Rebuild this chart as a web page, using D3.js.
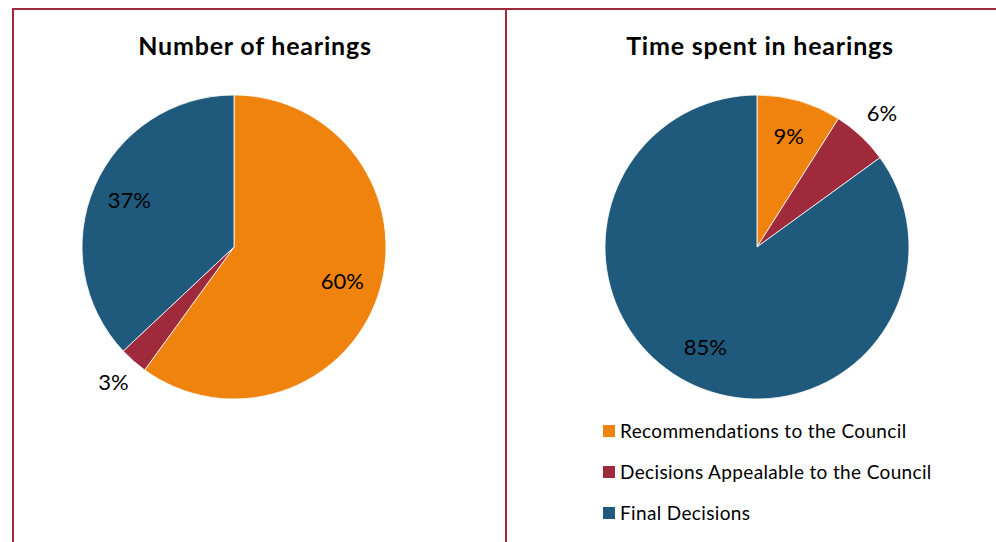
<!DOCTYPE html>
<html><head><meta charset="utf-8">
<script src="https://cdn.jsdelivr.net/npm/d3@7"></script>
<style>body{margin:0;background:#fff}svg{display:block}text{font-family:Lato,"Open Sans",sans-serif;fill:#000}</style>
</head><body>
<svg id="c" width="996" height="542"></svg>
<script>
const categories = ["Recommendations to the Council", "Decisions Appealable to the Council", "Final Decisions"];
const colors = ["#F0830D", "#9E2A3B", "#1F5A7D"];
const hearingsCount = [60, 3, 37];
const hearingsTime = [9, 6, 85];
const titles = ["Number of hearings", "Time spent in hearings"];

const svg = d3.select("#c");
const borderColor = "#9E2A3B";
// frame
svg.append("line").attr("x1",12).attr("x2",996).attr("y1",9).attr("y2",9).attr("stroke",borderColor).attr("stroke-width",2);
svg.append("line").attr("x1",13).attr("x2",13).attr("y1",8).attr("y2",542).attr("stroke",borderColor).attr("stroke-width",2);
svg.append("line").attr("x1",506).attr("x2",506).attr("y1",8).attr("y2",542).attr("stroke",borderColor).attr("stroke-width",2);

const color = d3.scaleOrdinal().domain(categories).range(colors);
const pie = d3.pie().sort(null).value(d => d.v);
const R = 152;
const arc = d3.arc().innerRadius(0).outerRadius(R);
const inArc = d3.arc().innerRadius(R*0.75).outerRadius(R*0.75);
const outArc = d3.arc().innerRadius(R*1.2).outerRadius(R*1.2);

function drawPie(values, cx, cy, title, tx) {
  const data = categories.map((c,i)=>({c, v: values[i]}));
  const g = svg.append("g").attr("transform",`translate(${cx},${cy})`);
  g.selectAll("path").data(pie(data)).join("path")
    .attr("d", arc).attr("fill", d => color(d.data.c))
    .attr("stroke","#fff").attr("stroke-width",0.8);
  g.selectAll("text.lbl").data(pie(data)).join("text").attr("class","lbl")
    .attr("transform", d => `translate(${(d.data.v < 8 ? outArc : inArc).centroid(d)})`)
    .attr("text-anchor","middle").attr("dy","0.3em")
    .style("font-size","22px")
    .text(d => d.data.v + "%");
  svg.append("text").attr("x",tx).attr("y",55).attr("text-anchor","middle")
    .style("font-size","25px").style("font-weight","bold").style("letter-spacing","0.8px").text(title);
}
drawPie(hearingsCount, 234, 247, titles[0], 255);
drawPie(hearingsTime, 757, 247, titles[1], 760);

const lg = svg.append("g");
const ly = d3.scalePoint().domain(categories).range([431, 513]);
categories.forEach(c => {
  lg.append("rect").attr("x",603).attr("y",ly(c)-6).attr("width",12).attr("height",12).attr("fill",color(c));
  lg.append("text").attr("x",620).attr("y",ly(c)).attr("dy","0.36em").style("font-size","19px").style("letter-spacing","0.35px").text(c);
});
</script>
</body></html>
